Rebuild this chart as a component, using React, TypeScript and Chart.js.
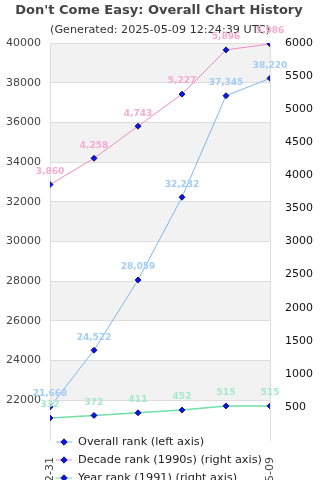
import React, { useEffect, useRef } from "react";
import { Chart, registerables } from "chart.js";

Chart.register(...registerables);

const TITLE = "Don't Come Easy: Overall Chart History";
const SUBTITLE = "(Generated: 2025-05-09 12:24:39 UTC)";
const categories = ["2020-12-31", "2021-12-31", "2022-12-31", "2023-12-31", "2024-12-31", "2025-05-09"];
const overallRank = [21668, 24522, 28059, 32232, 37345, 38220];
const decadeRank = [3860, 4258, 4743, 5227, 5896, 5986];
const yearRank = [332, 372, 411, 452, 515, 515];
const seriesNames = ["Overall rank (left axis)", "Decade rank (1990s) (right axis)", "Year rank (1991) (right axis)"];
const lineColors = ["#7db8f0", "#f08cc0", "#6fe0a8"];
const labelColors = ["#a3cdf5", "#f7abcd", "#a6e9c8"];

const FONT = "'DejaVu Sans', sans-serif";

const fmt = (v: number) => v.toLocaleString("en-US");

function drawDiamond(ctx: CanvasRenderingContext2D, x: number, y: number, r: number) {
  ctx.beginPath();
  ctx.moveTo(x, y - r);
  ctx.lineTo(x + r, y);
  ctx.lineTo(x, y + r);
  ctx.lineTo(x - r, y);
  ctx.closePath();
  ctx.fillStyle = "#0a14f0";
  ctx.fill();
  ctx.strokeStyle = "#000050";
  ctx.lineWidth = 0.8;
  ctx.stroke();
}

const bandsPlugin = {
  id: "bands",
  beforeDraw(chart: any) {
    const { ctx, chartArea } = chart;
    const y = chart.scales.y;
    ctx.save();
    ctx.fillStyle = "#f2f2f2";
    for (let v = 22000; v < 40000; v += 4000) {
      const top = y.getPixelForValue(v + 2000);
      const bot = y.getPixelForValue(v);
      ctx.fillRect(chartArea.left, top, chartArea.right - chartArea.left, bot - top);
    }
    ctx.restore();
  },
};

const textPlugin = {
  id: "texts",
  afterDraw(chart: any) {
    const { ctx } = chart;
    ctx.save();
    ctx.textAlign = "center";
    ctx.textBaseline = "middle";
    ctx.fillStyle = "#444";
    ctx.font = `bold 13px ${FONT}`;
    ctx.fillText(TITLE, 159, 11);
    ctx.fillStyle = "#333";
    ctx.font = `11.2px ${FONT}`;
    ctx.fillText(SUBTITLE, 160, 30);

    ctx.font = `bold 9px ${FONT}`;
    chart.data.datasets.forEach((ds: any, i: number) => {
      const meta = chart.getDatasetMeta(i);
      ctx.fillStyle = labelColors[i];
      meta.data.forEach((pt: any, j: number) => {
        ctx.fillText(fmt(ds.data[j]), pt.x, pt.y - 13);
      });
    });

    ctx.textAlign = "left";
    ctx.font = `11.3px ${FONT}`;
    seriesNames.forEach((name, i) => {
      const ly = 442 + i * 18;
      ctx.strokeStyle = lineColors[i];
      ctx.lineWidth = 1;
      ctx.beginPath();
      ctx.moveTo(56, ly);
      ctx.lineTo(72, ly);
      ctx.stroke();
      drawDiamond(ctx, 64, ly, 3.2);
      ctx.fillStyle = "#222";
      ctx.fillText(name, 78, ly);
    });
    ctx.restore();
  },
};

export default function App() {
  const ref = useRef<HTMLCanvasElement>(null);
  useEffect(() => {
    document.body.style.margin = "0";
    const mk = (data: number[], i: number, axis: string, bw: number) => ({
      label: seriesNames[i],
      data,
      yAxisID: axis,
      borderColor: lineColors[i],
      borderWidth: bw,
      backgroundColor: lineColors[i],
      pointStyle: "rectRot",
      pointRadius: 3,
      pointBackgroundColor: "#0a14f0",
      pointBorderColor: "#000050",
      pointBorderWidth: 0.8,
      tension: 0,
      clip: 0,
    });
    const chart = new Chart(ref.current!, {
      type: "line",
      data: {
        labels: categories,
        datasets: [
          mk(overallRank, 0, "y", 1),
          mk(decadeRank, 1, "y1", 1),
          mk(yearRank, 2, "y1", 1.5),
        ],
      },
      options: {
        responsive: false,
        animation: false,
        devicePixelRatio: 1,
        layout: { padding: { top: 43, left: 0, right: 0, bottom: 0 } },
        plugins: {
          legend: { display: false },
          title: { display: false },
          tooltip: { enabled: false },
        },
        scales: {
          x: {
            offset: false,
            grid: { display: false, drawTicks: false },
            border: { display: false },
            ticks: {
              autoSkip: false,
              minRotation: 90,
              maxRotation: 90,
              padding: 17,
              color: "#444",
              font: { family: FONT, size: 11 },
              callback: (_v: any, i: number) => (i === 0 || i === categories.length - 1 ? categories[i] : ""),
            },
            afterFit: (s: any) => {
              s.height = 120;
            },
          },
          y: {
            position: "left",
            min: 20000,
            max: 40000,
            grid: {
              color: (c: any) => (c.tick && c.tick.value === 20000 ? "rgba(0,0,0,0)" : "#dddddd"),
              drawTicks: false,
            },
            border: { display: true, color: "#dddddd" },
            ticks: {
              stepSize: 2000,
              padding: 9,
              color: "#444",
              font: { family: FONT, size: 11 },
              callback: (v: any) => (v === 20000 ? "" : String(v)),
            },
            afterFit: (s: any) => {
              s.width = 50;
            },
          },
          y1: {
            position: "right",
            min: 0,
            max: 6000,
            grid: { display: false, drawTicks: false },
            border: { display: true, color: "#dddddd" },
            ticks: {
              stepSize: 500,
              padding: 15,
              color: "#111",
              font: { family: FONT, size: 11 },
              callback: (v: any) => (v === 0 ? "" : String(v)),
            },
            afterFit: (s: any) => {
              s.width = 50;
            },
          },
        },
      },
      plugins: [bandsPlugin, textPlugin],
    } as any);
    return () => chart.destroy();
  }, []);
  return (
    <div style={{ position: "absolute", left: 0, top: 0, width: 320, height: 560 }}>
      <canvas ref={ref} width={320} height={560} />
    </div>
  );
}
